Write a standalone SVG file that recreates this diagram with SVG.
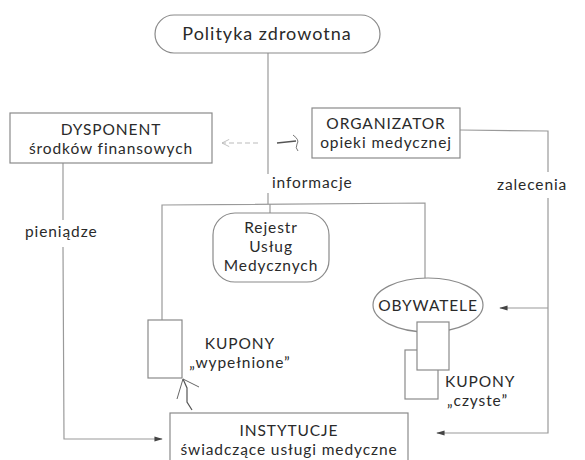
<svg xmlns="http://www.w3.org/2000/svg" width="585" height="460" viewBox="0 0 585 460">
<style>
.bg{fill:#fff}
.box{fill:#fff;stroke:#8a8a8a;stroke-width:1.2}
.ln{fill:none;stroke:#9a9a9a;stroke-width:1.2}
.t{font-family:Lato,"Open Sans",sans-serif;font-size:15.5px;letter-spacing:0.9px;fill:#2a2a2a;text-anchor:middle}
.big{font-size:18px;letter-spacing:1px}
.l{text-anchor:start}
</style>
<defs>
<marker id="ah" viewBox="0 0 10 10" refX="9" refY="5" markerWidth="7" markerHeight="7" orient="auto">
<path d="M0,2 L10,5 L0,8 Z" fill="#444"/>
</marker>
<marker id="open" viewBox="0 0 10 10" refX="9" refY="5" markerWidth="9" markerHeight="9" orient="auto">
<path d="M1,1 L9,5 L1,9" fill="none" stroke="#bbb" stroke-width="1"/>
</marker>
</defs>
<rect class="bg" width="585" height="460"/>
<g id="connectors">
<line class="ln" x1="268" y1="53" x2="268" y2="174"/>
<line class="ln" x1="268" y1="193" x2="268" y2="204"/>
<line class="ln" x1="270" y1="204" x2="270" y2="213"/>
<polyline class="ln" points="162,320 162,205 425,203 425,278"/>
<path d="M258,143 L222,143" fill="none" stroke="#bbb" stroke-width="1" stroke-dasharray="5,3" marker-end="url(#open)"/>
<path d="M277,143 L296,141" fill="none" stroke="#555" stroke-width="1.6"/>
<path d="M293,135 Q300,140 297,144 Q295,148 298,151" fill="none" stroke="#777" stroke-width="1"/>
<polyline class="ln" points="460,130 548,131 548,172"/>
<polyline class="ln" points="548,198 548,433 437,433" marker-end="url(#ah)"/>
<line class="ln" x1="548" y1="308" x2="500" y2="308" marker-end="url(#ah)"/>
<line class="ln" x1="63" y1="163" x2="63" y2="220"/>
<polyline class="ln" points="63,247 64,439 162,439" marker-end="url(#ah)"/>
<path d="M192,410 L187,402 L187,388 L183,379" fill="none" stroke="#555" stroke-width="1.2"/>
<path d="M183,379 L199,387 M183,379 L177,399" fill="none" stroke="#666" stroke-width="1"/>
</g>
<g id="polityka">
<rect class="box" x="155" y="15" width="225" height="38" rx="19"/>
<text class="t big" x="267" y="40">Polityka zdrowotna</text>
</g>
<g id="dysponent">
<rect class="box" x="10" y="113" width="202" height="50"/>
<text class="t" x="111" y="135">DYSPONENT</text>
<text class="t" x="111" y="154">środków finansowych</text>
</g>
<g id="organizator">
<rect class="box" x="312" y="108" width="148" height="50"/>
<text class="t" x="386" y="129">ORGANIZATOR</text>
<text class="t" x="386" y="148">opieki medycznej</text>
</g>
<g id="rejestr">
<rect class="box" x="213" y="213" width="116" height="69" rx="22"/>
<text class="t" x="271" y="233">Rejestr</text>
<text class="t" x="271" y="252">Usług</text>
<text class="t" x="271" y="271">Medycznych</text>
</g>
<g id="obywatele">
<ellipse class="box" cx="428" cy="305" rx="55" ry="27"/>
<text class="t" x="428" y="311">OBYWATELE</text>
</g>
<g id="kupony-czyste">
<rect class="box" x="405" y="350" width="33" height="49"/>
<rect class="box" x="417" y="322" width="32" height="48"/>
<text class="t l" x="445" y="387">KUPONY</text>
<text class="t l" x="447" y="406">„czyste”</text>
</g>
<g id="kupony-wypelnione">
<rect class="box" x="148" y="320" width="34" height="58"/>
<text class="t" x="240" y="349">KUPONY</text>
<text class="t" x="240" y="368">„wypełnione”</text>
</g>
<g id="instytucje">
<rect class="box" x="170" y="413" width="238" height="60"/>
<text class="t" x="289" y="436">INSTYTUCJE</text>
<text class="t" x="289" y="455">świadczące usługi medyczne</text>
</g>
<g id="labels">
<text class="t l" x="272" y="188">informacje</text>
<text class="t l" x="497" y="190">zalecenia</text>
<text class="t l" x="25" y="237">pieniądze</text>
</g>
</svg>
